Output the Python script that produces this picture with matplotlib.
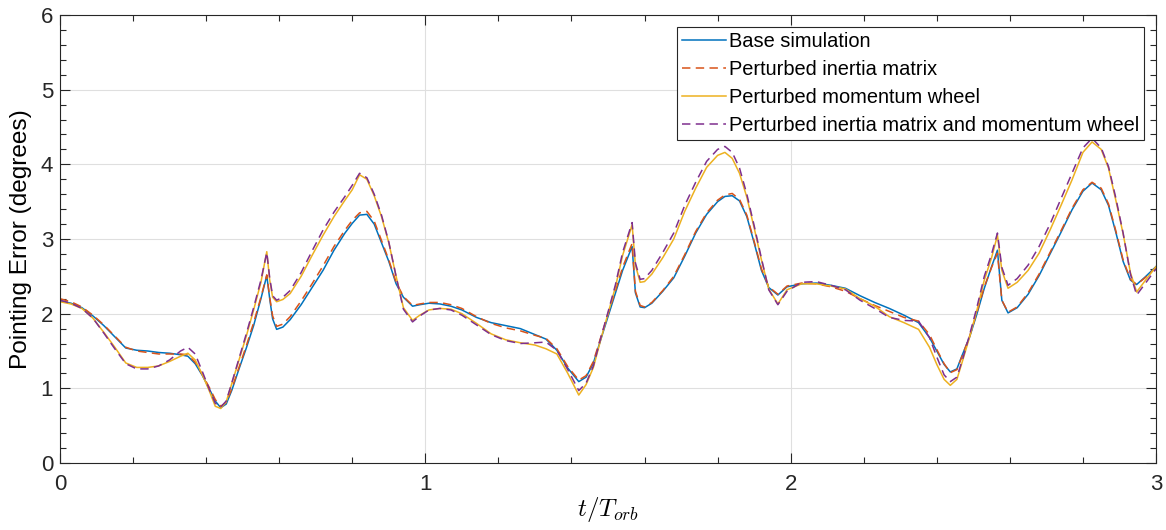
import matplotlib
matplotlib.use('Agg')
import matplotlib.pyplot as plt
from matplotlib.ticker import MultipleLocator

# Sample times (in orbits)
t = [0, 0.03, 0.06, 0.09, 0.12, 0.15, 0.18, 0.21, 0.24, 0.27, 0.30, 0.33, 0.35, 0.37, 0.39,
     0.41, 0.425, 0.44, 0.455, 0.47, 0.49, 0.51, 0.53, 0.55, 0.566, 0.574, 0.582, 0.593,
     0.61, 0.63, 0.66, 0.69, 0.72, 0.75, 0.78, 0.80, 0.82, 0.84, 0.86, 0.88, 0.90, 0.92,
     0.94, 0.965, 0.985,
     1.01, 1.04, 1.07, 1.10, 1.14, 1.18, 1.22, 1.26, 1.30, 1.33, 1.36, 1.39,
     1.42, 1.44, 1.46, 1.48, 1.50, 1.52, 1.54, 1.566, 1.575, 1.588, 1.60,
     1.62, 1.65, 1.68, 1.71, 1.74, 1.77, 1.80, 1.82, 1.84, 1.86, 1.88, 1.90, 1.92, 1.94,
     1.965, 1.99,
     2.03, 2.07, 2.11, 2.15, 2.19, 2.23, 2.27, 2.31, 2.35, 2.38, 2.40,
     2.42, 2.437, 2.455, 2.47, 2.49, 2.51, 2.53, 2.55, 2.566, 2.578, 2.595,
     2.62, 2.65, 2.68, 2.71, 2.74, 2.77, 2.80, 2.825, 2.85, 2.87, 2.89, 2.91, 2.93,
     2.947, 2.97, 3.0]

base = [2.17, 2.14, 2.08, 1.97, 1.84, 1.69, 1.54, 1.51, 1.50, 1.48, 1.47, 1.45, 1.43, 1.33, 1.17,
        0.98, 0.83, 0.74, 0.79, 0.97, 1.26, 1.54, 1.84, 2.20, 2.51, 2.20, 1.93, 1.79,
        1.82, 1.92, 2.12, 2.35, 2.58, 2.85, 3.08, 3.21, 3.32, 3.33, 3.20, 2.95, 2.70, 2.40,
        2.22, 2.10, 2.12,
        2.14, 2.13, 2.10, 2.05, 1.95, 1.88, 1.84, 1.80, 1.72, 1.66, 1.51, 1.27,
        1.09, 1.15, 1.34, 1.65, 1.96, 2.27, 2.58, 2.90, 2.28, 2.09, 2.08,
        2.14, 2.30, 2.48, 2.77, 3.08, 3.33, 3.50, 3.57, 3.58, 3.51, 3.30, 2.95, 2.58, 2.35,
        2.25, 2.36,
        2.40, 2.41, 2.38, 2.34, 2.24, 2.15, 2.07, 1.98, 1.88, 1.68, 1.50,
        1.32, 1.22, 1.26, 1.45, 1.69, 2.00, 2.34, 2.63, 2.85, 2.18, 2.01,
        2.08, 2.26, 2.51, 2.80, 3.09, 3.39, 3.64, 3.75, 3.66, 3.45, 3.09, 2.70, 2.45,
        2.39, 2.49, 2.63]

inertia = [2.20, 2.16, 2.09, 1.98, 1.85, 1.70, 1.55, 1.50, 1.48, 1.46, 1.46, 1.46, 1.45, 1.35, 1.18,
           1.00, 0.85, 0.76, 0.81, 0.99, 1.28, 1.57, 1.88, 2.22, 2.52, 2.22, 1.97, 1.83,
           1.86, 1.96, 2.17, 2.40, 2.64, 2.90, 3.12, 3.25, 3.35, 3.37, 3.24, 2.98, 2.72, 2.42,
           2.23, 2.11, 2.13,
           2.15, 2.15, 2.12, 2.07, 1.96, 1.87, 1.81, 1.77, 1.71, 1.67, 1.53, 1.29,
           1.11, 1.17, 1.36, 1.68, 1.99, 2.30, 2.62, 2.94, 2.30, 2.11, 2.09,
           2.15, 2.31, 2.50, 2.79, 3.10, 3.35, 3.52, 3.59, 3.61, 3.53, 3.32, 2.97, 2.60, 2.36,
           2.26, 2.37,
           2.41, 2.40, 2.36, 2.30, 2.20, 2.11, 2.03, 1.95, 1.90, 1.72, 1.52,
           1.33, 1.21, 1.25, 1.44, 1.70, 2.02, 2.36, 2.62, 2.81, 2.18, 2.02,
           2.09, 2.28, 2.53, 2.82, 3.11, 3.41, 3.66, 3.76, 3.68, 3.47, 3.11, 2.72, 2.46,
           2.39, 2.48, 2.62]

wheel = [2.16, 2.13, 2.07, 1.94, 1.75, 1.55, 1.34, 1.28, 1.28, 1.30, 1.36, 1.43, 1.47, 1.38, 1.18,
         0.95, 0.76, 0.73, 0.82, 1.06, 1.38, 1.70, 2.05, 2.42, 2.83, 2.45, 2.22, 2.16,
         2.19, 2.27, 2.50, 2.78, 3.05, 3.30, 3.52, 3.66, 3.86, 3.80, 3.58, 3.30, 2.95, 2.50,
         2.08, 1.91, 1.98,
         2.05, 2.07, 2.06, 2.00, 1.87, 1.73, 1.65, 1.61, 1.58, 1.53, 1.46, 1.20,
         0.91, 1.05, 1.28, 1.65, 2.00, 2.35, 2.78, 3.19, 2.65, 2.42, 2.43,
         2.53, 2.75, 3.00, 3.37, 3.68, 3.96, 4.12, 4.16, 4.08, 3.88, 3.56, 3.15, 2.72, 2.33,
         2.13, 2.32,
         2.40, 2.40, 2.37, 2.33, 2.20, 2.10, 1.96, 1.88, 1.79, 1.55, 1.32,
         1.12, 1.04, 1.12, 1.36, 1.69, 2.05, 2.45, 2.75, 3.05, 2.58, 2.34,
         2.42, 2.58, 2.81, 3.12, 3.45, 3.79, 4.16, 4.30, 4.20, 3.95, 3.52, 3.07, 2.55,
         2.29, 2.44, 2.63]

both = [2.18, 2.14, 2.07, 1.94, 1.74, 1.53, 1.33, 1.26, 1.26, 1.30, 1.38, 1.50, 1.55, 1.46, 1.22,
        0.97, 0.80, 0.75, 0.83, 1.07, 1.40, 1.73, 2.08, 2.45, 2.82, 2.48, 2.24, 2.18,
        2.22, 2.31, 2.55, 2.84, 3.12, 3.36, 3.57, 3.72, 3.88, 3.82, 3.60, 3.32, 2.96, 2.50,
        2.06, 1.89, 1.97,
        2.05, 2.07, 2.05, 1.98, 1.85, 1.72, 1.64, 1.60, 1.61, 1.62, 1.51, 1.25,
        0.97, 1.07, 1.30, 1.67, 2.02, 2.38, 2.82, 3.22, 2.68, 2.46, 2.47,
        2.58, 2.82, 3.08, 3.45, 3.76, 4.04, 4.20, 4.24, 4.16, 3.95, 3.60, 3.18, 2.74, 2.32,
        2.12, 2.30,
        2.42, 2.43, 2.38, 2.32, 2.18, 2.07, 1.95, 1.91, 1.90, 1.68, 1.42,
        1.18, 1.09, 1.15, 1.38, 1.72, 2.09, 2.50, 2.80, 3.08, 2.62, 2.38,
        2.47, 2.65, 2.90, 3.20, 3.54, 3.88, 4.22, 4.35, 4.22, 3.97, 3.55, 3.08, 2.53,
        2.25, 2.40, 2.60]

labels = ['Base simulation', 'Perturbed inertia matrix', 'Perturbed momentum wheel',
          'Perturbed inertia matrix and momentum wheel']

plt.rcParams['font.family'] = ['Liberation Sans', 'DejaVu Sans']
plt.rcParams['mathtext.fontset'] = 'cm'

fig = plt.figure(figsize=(11.66, 5.30), dpi=100)
ax = fig.add_axes([60 / 1166, 67 / 530, 1096 / 1166, 448 / 530])

ax.plot(t, base, color='#0072BD', lw=1.1, label=labels[0])
ax.plot(t, inertia, color='#D95319', lw=1.1, ls=(0, (5.5, 3.5)), label=labels[1])
ax.plot(t, wheel, color='#EDB120', lw=1.1, label=labels[2])
ax.plot(t, both, color='#7E2F8E', lw=1.1, ls=(0, (5.5, 3.5)), label=labels[3])

ax.set_xlim(0, 3)
ax.set_ylim(0, 6)
ax.xaxis.set_major_locator(MultipleLocator(1))
ax.xaxis.set_minor_locator(MultipleLocator(0.2))
ax.yaxis.set_major_locator(MultipleLocator(1))
ax.yaxis.set_minor_locator(MultipleLocator(0.2))
ax.tick_params(which='both', direction='in', top=True, right=True,
               colors='#262626', labelsize=16, width=0.8)
ax.tick_params(axis='x', which='both', pad=8)
ax.tick_params(axis='y', which='both', pad=5)
ax.tick_params(which='major', length=7)
ax.tick_params(which='minor', length=4)
ax.grid(True, which='major', color='#dfdfdf', lw=0.8)
ax.set_axisbelow(True)
for s in ax.spines.values():
    s.set_color('#262626')
    s.set_linewidth(0.8)

ax.set_xlabel(r'$t/T_{orb}$', fontsize=18, labelpad=0)
ax.set_ylabel('Pointing Error (degrees)', fontsize=17.6, labelpad=6)

leg = ax.legend(loc='upper right', fontsize=14.4, handlelength=2.2, handletextpad=0.15,
                labelspacing=0.45, borderaxespad=0.6, borderpad=0.25,
                fancybox=False, framealpha=1, edgecolor='#262626')
leg.get_frame().set_linewidth(0.8)

fig.savefig('out.png', dpi=100)
